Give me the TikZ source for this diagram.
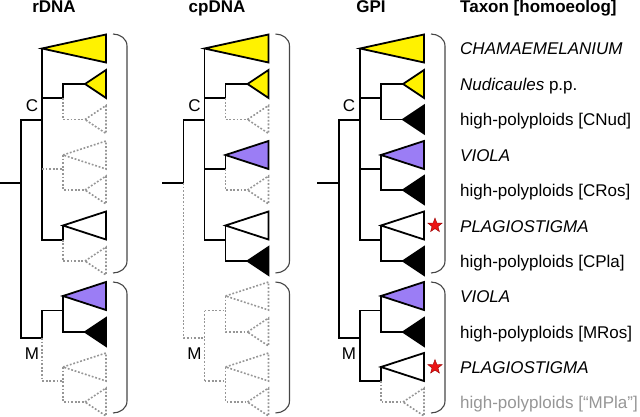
\documentclass[tikz,border=0pt]{standalone}
\usepackage{fontspec}
\setmainfont{Liberation Sans}
\usetikzlibrary{shapes.geometric}
\definecolor{dgray}{RGB}{150,150,150}
\definecolor{brgray}{RGB}{70,70,70}
\definecolor{vio}{RGB}{155,125,245}
\definecolor{txtgray}{RGB}{150,150,150}
\definecolor{starred}{RGB}{235,20,20}
\tikzset{
  br/.style={line width=1.8pt, black, line cap=rect},
  dbr/.style={line width=1.6pt, dgray, dash pattern=on 1.8pt off 1.8pt},
  tri/.style={line width=1.8pt, black, line join=miter},
  dtri/.style={line width=1.6pt, dgray, dash pattern=on 1.8pt off 1.8pt, line join=miter},
  brk/.style={line width=1.1pt, brgray},
  lab/.style={anchor=base west, inner sep=0pt},
  head/.style={anchor=base, inner sep=0pt, font=\bfseries},
  cmlab/.style={anchor=base, inner sep=0pt},
  redstar/.style={star, star points=5, star point ratio=2.4, fill=starred, draw=red!60!black, line width=0.4pt, minimum size=15pt, inner sep=0pt}
}
% big triangle: apex at (#1,#2)
\newcommand\bigT[3]{\draw[#3] (#1,#2) -- (106,#2-14) -- (106,#2+14) -- cycle;}
\newcommand\brackets{%
  \draw[brk] (113,34) to[out=0,in=90] (127,46) -- (127,261) to[out=-90,in=0] (113,273);
  \draw[brk] (113,282) to[out=0,in=90] (127,294) -- (127,401) to[out=-90,in=0] (113,413);
}
\begin{document}
\begin{tikzpicture}[x=1pt,y=-1pt]
\useasboundingbox (0,0) rectangle (640,417);
\fontsize{17}{20}\selectfont
% headings
\node[head] (h1) at (54,13) {rDNA};
\node[head] (h2) at (217,13) {cpDNA};
\node[head] (h3) at (371,13) {GPI};
\node[lab, font=\bfseries] (h4) at (460,13) {Taxon [homoeolog]};

% ---------------- rDNA ----------------
\begin{scope}[xshift=0pt]
\draw[br] (0,183) -- (21,183);
\draw[br] (42,120) -- (21,120) -- (21,338) -- (42,338);
\draw[br] (42,48.5) -- (42,239.7);
\bigT{42}{48.5}{tri, fill=yellow}
\draw[br] (42,98.2) -- (63,98.2) -- (63,84) -- (85,84);
\bigT{85}{84}{tri, fill=yellow}
\draw[dbr] (63,98.2) -- (63,119.5) -- (85,119.5);
\bigT{85}{119.5}{dtri}
\draw[dbr] (42,169) -- (63,169);
\draw[dbr] (63,155) -- (63,190) -- (85,190);
\bigT{63}{155}{dtri}
\bigT{85}{190}{dtri}
\draw[br] (42,239.7) -- (63,239.7) -- (63,225.5);
\bigT{63}{225.5}{tri, fill=white}
\draw[dbr] (63,239.7) -- (63,261) -- (85,261);
\bigT{85}{261}{dtri}
\draw[br] (42,338) -- (42,310.5) -- (63,310.5);
\draw[br] (63,296) -- (63,332) -- (85,332);
\bigT{63}{296}{tri, fill=vio}
\bigT{85}{332}{tri, fill=black}
\draw[dbr] (42,338) -- (42,381) -- (63,381);
\draw[dbr] (63,367) -- (63,402) -- (85,402);
\bigT{63}{367}{dtri}
\bigT{85}{402}{dtri}
\node[cmlab] (c1) at (32,112) {C};
\node[cmlab] (m1) at (32,359) {M};
\brackets
\end{scope}

% ---------------- cpDNA ----------------
\begin{scope}[xshift=162.5pt]
\draw[br] (0,183) -- (21,183);
\draw[br] (42,120) -- (21,120) -- (21,183);
\draw[dbr] (21,183) -- (21,338) -- (42,338);
\draw[br] (42,48.5) -- (42,239.7);
\bigT{42}{48.5}{tri, fill=yellow}
\draw[br] (42,98.2) -- (63,98.2) -- (63,84) -- (85,84);
\bigT{85}{84}{tri, fill=yellow}
\draw[dbr] (63,98.2) -- (63,119.5) -- (85,119.5);
\bigT{85}{119.5}{dtri}
\draw[br] (42,169) -- (63,169) -- (63,155);
\bigT{63}{155}{tri, fill=vio}
\draw[dbr] (63,169) -- (63,190) -- (85,190);
\bigT{85}{190}{dtri}
\draw[br] (42,239.7) -- (63,239.7);
\draw[br] (63,225.5) -- (63,261) -- (85,261);
\bigT{63}{225.5}{tri, fill=white}
\bigT{85}{261}{tri, fill=black}
\draw[dbr] (42,310.5) -- (42,381);
\draw[dbr] (42,310.5) -- (63,310.5);
\draw[dbr] (63,296) -- (63,332) -- (85,332);
\bigT{63}{296}{dtri}
\bigT{85}{332}{dtri}
\draw[dbr] (42,381) -- (63,381);
\draw[dbr] (63,367) -- (63,402) -- (85,402);
\bigT{63}{367}{dtri}
\bigT{85}{402}{dtri}
\node[cmlab] (c2) at (32,112) {C};
\node[cmlab] (m2) at (32,359) {M};
\brackets
\end{scope}

% ---------------- GPI ----------------
\begin{scope}[xshift=318pt]
\draw[br] (0,183) -- (21,183);
\draw[br] (42,120) -- (21,120) -- (21,338) -- (42,338);
\draw[br] (42,48.5) -- (42,239.7);
\bigT{42}{48.5}{tri, fill=yellow}
\draw[br] (42,98.2) -- (63,98.2);
\draw[br] (85,84) -- (63,84) -- (63,119.5) -- (85,119.5);
\bigT{85}{84}{tri, fill=yellow}
\bigT{85}{119.5}{tri, fill=black}
\draw[br] (42,169) -- (63,169);
\draw[br] (63,155) -- (63,190) -- (85,190);
\bigT{63}{155}{tri, fill=vio}
\bigT{85}{190}{tri, fill=black}
\draw[br] (42,239.7) -- (63,239.7);
\draw[br] (63,225.5) -- (63,261) -- (85,261);
\bigT{63}{225.5}{tri, fill=white}
\bigT{85}{261}{tri, fill=black}
\draw[br] (42,310.5) -- (42,381);
\draw[br] (42,310.5) -- (63,310.5);
\draw[br] (63,296) -- (63,332) -- (85,332);
\bigT{63}{296}{tri, fill=vio}
\bigT{85}{332}{tri, fill=black}
\draw[br] (42,381) -- (63,381) -- (63,367);
\bigT{63}{367}{tri, fill=white}
\draw[dbr] (63,381) -- (63,402) -- (85,402);
\bigT{85}{402}{dtri}
\node[redstar] (s1) at (117,225.5) {};
\node[redstar] (s2) at (117,367) {};
\node[cmlab] (c3) at (31,112) {C};
\node[cmlab] (m3) at (31,359) {M};
\brackets
\end{scope}

% ---------------- taxa ----------------
\node[lab] (t0) at (460,55) {\textit{CHAMAEMELANIUM}};
\node[lab] (t1) at (460,90.5) {\textit{Nudicaules} p.p.};
\node[lab] (t2) at (460,126) {high-polyploids [CNud]};
\node[lab] (t3) at (460,161.5) {\textit{VIOLA}};
\node[lab] (t4) at (460,196.5) {high-polyploids [CRos]};
\node[lab] (t5) at (460,232) {\textit{PLAGIOSTIGMA}};
\node[lab] (t6) at (460,267.5) {high-polyploids [CPla]};
\node[lab] (t7) at (460,302.5) {\textit{VIOLA}};
\node[lab] (t8) at (460,338.5) {high-polyploids [MRos]};
\node[lab] (t9) at (460,373.5) {\textit{PLAGIOSTIGMA}};
\node[lab, text=txtgray] (t10) at (460,408.5) {high-polyploids [“MPla”]};
\end{tikzpicture}
\end{document}
